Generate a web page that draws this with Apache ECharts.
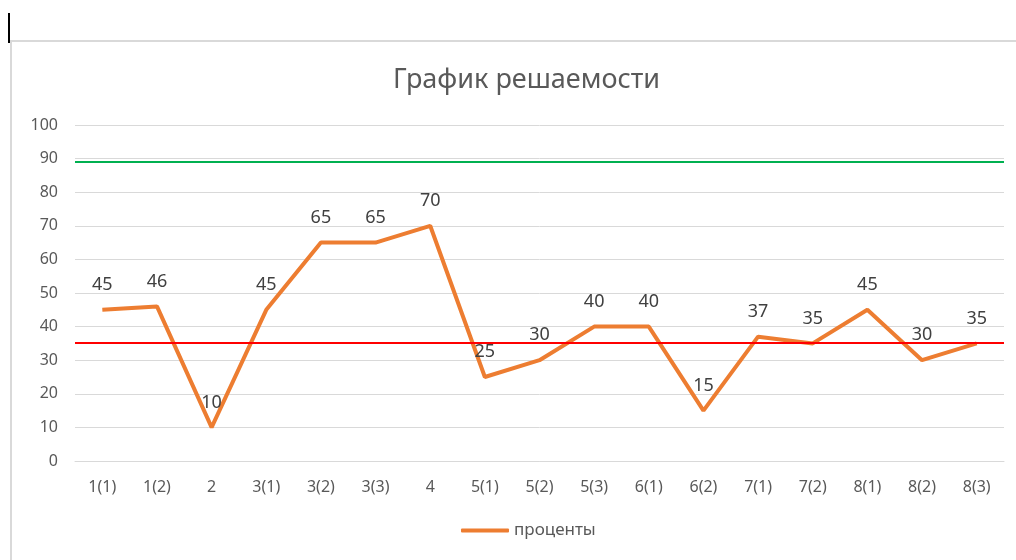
<!DOCTYPE html>
<html>
<head>
<meta charset="utf-8">
<script src="https://cdn.jsdelivr.net/npm/echarts@6/dist/echarts.min.js"></script>
<style>
  html, body { margin: 0; padding: 0; background: #fff; }
  #chart { width: 1016px; height: 560px; }
</style>
</head>
<body>
<div id="chart"></div>
<script>
// категории (номера заданий)
var categories = ['1(1)', '1(2)', '2', '3(1)', '3(2)', '3(3)', '4', '5(1)', '5(2)',
                  '5(3)', '6(1)', '6(2)', '7(1)', '7(2)', '8(1)', '8(2)', '8(3)'];
// проценты решаемости
var percents = [45, 46, 10, 45, 65, 65, 70, 25, 30, 40, 40, 15, 37, 35, 45, 30, 35];
// уровни горизонтальных линий
var upperLevel = 89;
var lowerLevel = 35.3;

var chart = echarts.init(document.getElementById('chart'));

var option = {
    animation: false,
    title: {
        text: 'График решаемости',
        left: 388,
        top: 62,
        textStyle: {
            fontFamily: 'Noto Sans',
            fontSize: 27,
            fontWeight: 'normal',
            color: '#595959'
        }
    },
    legend: {
        bottom: 16,
        left: 456,
        itemWidth: 48,
        itemHeight: 4,
        itemGap: 6,
        icon: 'roundRect',
        textStyle: { fontFamily: 'Noto Sans', fontSize: 17, color: '#595959' },
        data: ['проценты']
    },
    grid: { left: 75, right: 12, top: 125, bottom: 99 },
    xAxis: {
        type: 'category',
        data: categories,
        axisLine: { lineStyle: { color: '#d9d9d9' } },
        axisTick: { show: false },
        axisLabel: { fontFamily: 'Noto Sans', fontSize: 16, color: '#595959', margin: 18, interval: 0 }
    },
    yAxis: {
        type: 'value',
        min: 0,
        max: 100,
        interval: 10,
        axisLine: { show: false },
        axisTick: { show: false },
        axisLabel: { fontFamily: 'Noto Sans', fontSize: 16, color: '#595959', margin: 17 },
        splitLine: { lineStyle: { color: '#d9d9d9', width: 1 } }
    },
    series: [{
        name: 'проценты',
        type: 'line',
        data: percents,
        symbol: 'circle',
        symbolSize: 0,
        showSymbol: true,
        lineStyle: { color: '#ED7D31', width: 4 },
        itemStyle: { color: '#ED7D31' },
        label: {
            show: true,
            position: 'top',
            distance: 16,
            fontFamily: 'Noto Sans',
            fontSize: 18,
            color: '#404040'
        },
        markLine: {
            silent: true,
            symbol: 'none',
            label: { show: false },
            data: [
                { yAxis: upperLevel, lineStyle: { color: '#00B050', width: 2, type: 'solid' } },
                { yAxis: lowerLevel, lineStyle: { color: '#FF0000', width: 2, type: 'solid' } }
            ]
        }
    }],
    graphic: [
        { type: 'line', shape: { x1: 10, y1: 41, x2: 1016, y2: 41 }, style: { stroke: '#d9d9d9', lineWidth: 2 } },
        { type: 'line', shape: { x1: 11, y1: 41, x2: 11, y2: 560 }, style: { stroke: '#d9d9d9', lineWidth: 2 } },
        { type: 'line', shape: { x1: 9, y1: 13, x2: 9, y2: 43 }, style: { stroke: '#000', lineWidth: 2 } }
    ]
};

chart.setOption(option);
</script>
</body>
</html>
